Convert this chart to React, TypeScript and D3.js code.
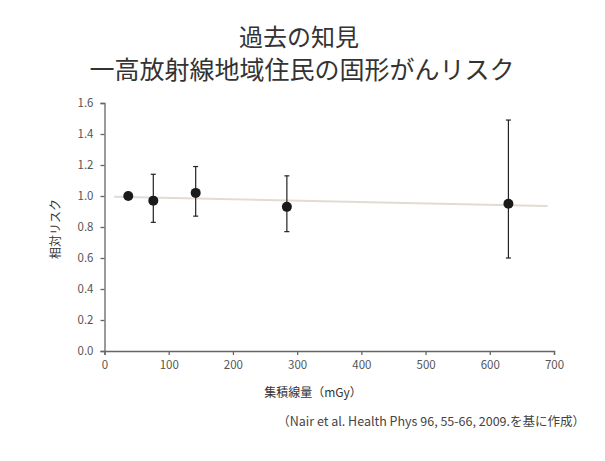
import React, { useEffect, useRef } from 'react';
import * as d3 from 'd3';

// data
const doses = [37, 76, 142, 284, 629];
const relRisk = [1.0, 0.97, 1.02, 0.93, 0.95];
const ciLow = [null, 0.83, 0.87, 0.77, 0.6];
const ciHigh = [null, 1.14, 1.19, 1.13, 1.49];
const trendDose = [15, 690];
const trendRisk = [0.995, 0.935];
const xTicks = [0, 100, 200, 300, 400, 500, 600, 700];
const yTicks = [0, 0.2, 0.4, 0.6, 0.8, 1.0, 1.2, 1.4, 1.6];

const W = 605;
const H = 461;
const FONT = '"Noto Sans CJK JP", "Noto Sans", sans-serif';

const App = () => {
  const svgRef = useRef(null);

  useEffect(() => {
    const svg = d3.select(svgRef.current);
    svg.selectAll('*').remove();

    const margin = { top: 103, right: 51, bottom: 110, left: 104.5 };
    const innerW = W - margin.left - margin.right;
    const innerH = H - margin.top - margin.bottom;

    // title
    const title = svg.append('g').attr('font-family', FONT).attr('fill', '#333').attr('text-anchor', 'middle');
    title.append('text').attr('x', 299).attr('y', 46).attr('font-size', 24).text('過去の知見');
    title.append('text').attr('x', 302).attr('y', 79).attr('font-size', 25).text('一高放射線地域住民の固形がんリスク');

    const g = svg.append('g').attr('transform', `translate(${margin.left},${margin.top})`);

    const x = d3.scaleLinear().domain([0, 700]).range([0, innerW]);
    const y = d3.scaleLinear().domain([0, 1.6]).range([innerH, 0]);

    // axes
    const xAxis = g.append('g')
      .attr('transform', `translate(0,${innerH})`)
      .call(d3.axisBottom(x).tickValues(xTicks).tickSize(4).tickPadding(6).tickFormat(d3.format('d')));
    const yAxis = g.append('g')
      .call(d3.axisLeft(y).tickValues(yTicks).tickSize(4).tickPadding(7).tickFormat(d3.format('.1f')));
    [xAxis, yAxis].forEach(a => {
      a.select('.domain').attr('stroke', '#666').attr('stroke-width', 1.3);
      a.selectAll('.tick line').attr('stroke', '#666').attr('stroke-width', 1.3);
      a.selectAll('.tick text').attr('fill', '#555').attr('font-size', 11.5).attr('font-family', FONT);
    });

    // faint trend line
    g.append('path')
      .datum(trendDose.map((d, i) => [d, trendRisk[i]]))
      .attr('fill', 'none')
      .attr('stroke', '#e2dbd4')
      .attr('stroke-width', 2)
      .attr('d', d3.line().x(d => x(d[0])).y(d => y(d[1])));

    // error bars
    const pts = doses.map((d, i) => ({ dose: d, rr: relRisk[i], lo: ciLow[i], hi: ciHigh[i] }));
    const bars = g.selectAll('.err').data(pts.filter(p => p.lo != null)).enter().append('g')
      .attr('stroke', '#222').attr('stroke-width', 1.2);
    bars.append('line')
      .attr('x1', d => x(d.dose)).attr('x2', d => x(d.dose))
      .attr('y1', d => y(d.lo)).attr('y2', d => y(d.hi));
    bars.append('line')
      .attr('x1', d => x(d.dose) - 2.5).attr('x2', d => x(d.dose) + 2.5)
      .attr('y1', d => y(d.lo)).attr('y2', d => y(d.lo));
    bars.append('line')
      .attr('x1', d => x(d.dose) - 2.5).attr('x2', d => x(d.dose) + 2.5)
      .attr('y1', d => y(d.hi)).attr('y2', d => y(d.hi));

    // markers
    g.selectAll('.dot').data(pts).enter().append('circle')
      .attr('cx', d => x(d.dose))
      .attr('cy', d => y(d.rr))
      .attr('r', 5)
      .attr('fill', '#1a1a1a');

    // axis labels
    svg.append('text')
      .attr('transform', `translate(60,229) rotate(-90)`)
      .attr('text-anchor', 'middle')
      .attr('font-family', FONT).attr('font-size', 12).attr('fill', '#333')
      .text('相対リスク');
    svg.append('text')
      .attr('x', 313).attr('y', 397)
      .attr('text-anchor', 'middle')
      .attr('font-family', FONT).attr('font-size', 12).attr('fill', '#333')
      .text('集積線量（mGy）');

    // source note
    svg.append('text')
      .attr('x', 585).attr('y', 426)
      .attr('text-anchor', 'end')
      .attr('font-family', FONT).attr('font-size', 12.5).attr('fill', '#444')
      .text('（Nair et al. Health Phys 96, 55-66, 2009.を基に作成）');
  }, []);

  return (
    <svg ref={svgRef} width={W} height={H}
      style={{ position: 'absolute', left: 0, top: 0, background: '#fff' }} />
  );
};

export default App;
